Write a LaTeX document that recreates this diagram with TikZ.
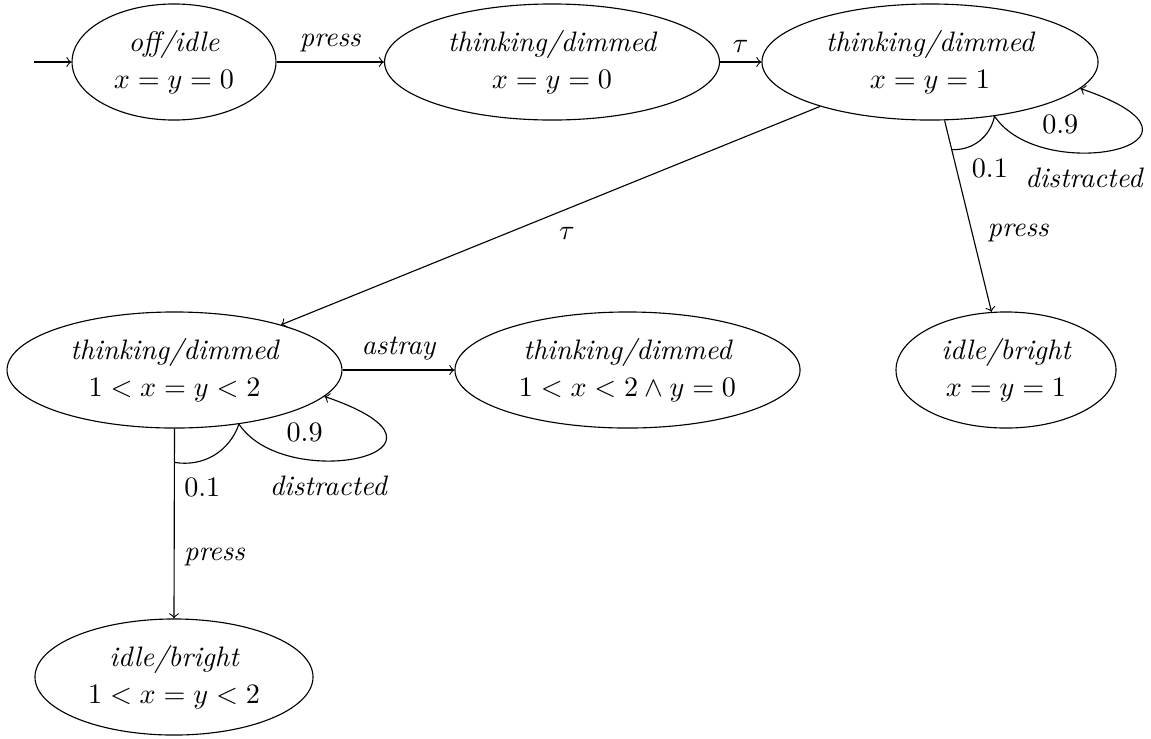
\documentclass[tikz,border=0pt]{standalone}
\usetikzlibrary{shapes.geometric,calc}
\begin{document}
\begin{tikzpicture}[x=0.355pt,y=-0.355pt,
  state/.style={draw, ellipse, inner sep=1pt, minimum height=41.2pt, align=center, font=\itshape},
  trans/.style={->},
  lbl/.style={font=\itshape},
]
\useasboundingbox (0,0) rectangle (1151,738);

% states
\node[state, minimum width=72.4pt]  (off) at (174,62)    {off/idle\\[1pt]$x=y=0$};
\node[state, minimum width=118.9pt] (th0) at (552,62)    {thinking/dimmed\\[1pt]$x=y=0$};
\node[state, minimum width=119.3pt] (th1) at (930,62)    {thinking/dimmed\\[1pt]$x=y=1$};
\node[state, minimum width=118.9pt] (th2) at (174.5,370) {thinking/dimmed\\[1pt]$1<x=y<2$};
\node[state, minimum width=122.5pt] (th3) at (627.5,370) {thinking/dimmed\\[1pt]$1<x<2\wedge y=0$};
\node[state, minimum width=78.1pt]  (ib1) at (1006,370)  {idle/bright\\[1pt]$x=y=1$};
\node[state, minimum width=98.7pt]  (ib2) at (174,677)   {idle/bright\\[1pt]$1<x=y<2$};

% initial state marker
\coordinate (init) at (34,62);
\draw[trans] (init) -- (off);

% plain transitions
\draw[trans] (off) -- node[above, lbl]{press} (th0);
\draw[trans] (th0) -- node[above]{$\tau$} (th1);
\draw[trans] (th1.-158) -- node[pos=0.47, yshift=-8.7pt]{$\tau$} (th2.23);
\draw[trans] (th2) -- node[above, lbl]{astray} (th3);

% probabilistic choice out of th1
\draw[trans] (th1.-76) --
  node[pos=0.249, anchor=west, xshift=2pt]{$0.1$}
  node[pos=0.587, anchor=west, xshift=2pt, lbl]{press} (ib1.104);
\coordinate (br1) at ($(th1.-76)!0.153!(ib1.104)$);
\draw (br1) to[bend right=40] (th1.-40);
\draw[trans] (th1.-40) .. controls +(47,71) and +(161,55) ..
  node[pos=0.3, yshift=9.9pt, xshift=-1.4pt]{$0.9$}
  node[pos=0.35, yshift=-8.9pt, xshift=2.1pt, lbl]{distracted} (th1.-10);

% probabilistic choice out of th2
\draw[trans] (th2.-90) --
  node[pos=0.31, anchor=west]{$0.1$}
  node[pos=0.675, anchor=west, lbl]{press} (ib2.90);
\coordinate (br2) at ($(th2.-90)!0.178!(ib2.90)$);
\draw (br2) to[bend right=40] (th2.-40);
\draw[trans] (th2.-40) .. controls +(47,71) and +(161,55) ..
  node[pos=0.3, yshift=9.9pt, xshift=-1.4pt]{$0.9$}
  node[pos=0.35, yshift=-8.9pt, xshift=2.1pt, lbl]{distracted} (th2.-10);
\end{tikzpicture}
\end{document}
